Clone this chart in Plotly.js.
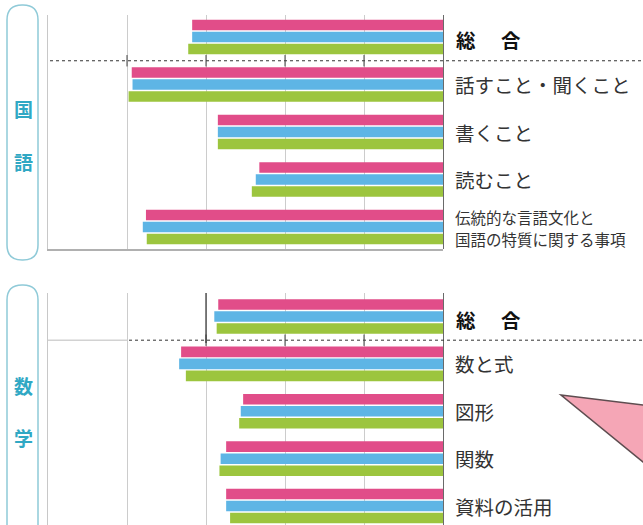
<!DOCTYPE html>
<html>
<head>
<meta charset="utf-8">
<script src="https://cdn.plot.ly/plotly-3.0.1.min.js"></script>
<style>html,body{margin:0;padding:0;background:#fff;}#chart{width:643px;height:525px;}</style>
</head>
<body>
<div id="chart"></div>
<script>
// ---- data ----
const seriesNames = ['系列A', '系列B', '系列C'];
const seriesColors = ['#e14d89', '#5eb5e5', '#9cc53e'];

const kokugoCats = ['総　合', '話すこと・聞くこと', '書くこと', '読むこと', '伝統的な言語文化と<br>国語の特質に関する事項'];
const kokugoPink  = [63.5, 78.8, 57.0, 46.5, 75.2];
const kokugoBlue  = [63.5, 78.6, 57.0, 47.4, 76.0];
const kokugoGreen = [64.5, 79.6, 57.0, 48.4, 75.0];

const sugakuCats = ['総　合', '数と式', '図形', '関数', '資料の活用'];
const sugakuPink  = [56.9, 66.3, 50.6, 54.9, 54.9];
const sugakuBlue  = [57.9, 66.8, 51.2, 56.3, 54.9];
const sugakuGreen = [57.3, 65.1, 51.6, 56.6, 53.9];

const subjectLabels = [['国', '語'], ['数', '学']];
const gridTicks = [0, 20, 40, 60, 80, 100];

// ---- helpers ----
const W = 643, H = 525;
const px = x => x / W;
const py = y => 1 - y / H;
const FONT = '"Noto Sans CJK JP", "Noto Sans CJK SC", sans-serif';

const idx = kokugoCats.map((_, i) => i);
const traces = [];
[[kokugoPink, kokugoBlue, kokugoGreen], [sugakuPink, sugakuBlue, sugakuGreen]].forEach((set, p) => {
  set.forEach((vals, s) => {
    traces.push({
      type: 'bar', orientation: 'h',
      x: vals, y: idx,
      xaxis: p === 0 ? 'x' : 'x2', yaxis: p === 0 ? 'y' : 'y2',
      name: seriesNames[s],
      marker: {color: seriesColors[s], line: {width: 0}},
      showlegend: false, hoverinfo: 'skip'
    });
  });
});

const xCommon = {
  range: [100, 0], dtick: 20, tick0: 0, showticklabels: false, ticks: '',
  showgrid: true, gridcolor: '#cccccc', gridwidth: 1,
  zeroline: true, zerolinecolor: '#6a6a6a', zerolinewidth: 1,
  domain: [px(48), px(443)], fixedrange: true
};
const yCommon = {
  showticklabels: false, ticks: '', showgrid: false, zeroline: false,
  showline: true, linecolor: '#c8c8c8', linewidth: 1.5, fixedrange: true
};

const shapes = [];
const annotations = [];

// category separator lines
shapes.push({type: 'line', xref: 'paper', yref: 'y', x0: px(50), x1: 1, y0: 0.5, y1: 0.5,
  line: {color: '#333', width: 1, dash: 'dot'}});
shapes.push({type: 'line', xref: 'paper', yref: 'y2', x0: px(48), x1: px(127), y0: 0.5, y1: 0.5,
  line: {color: '#d2d2d2', width: 1.5}});
shapes.push({type: 'line', xref: 'paper', yref: 'y2', x0: px(129), x1: 1, y0: 0.5, y1: 0.5,
  line: {color: '#333', width: 1, dash: 'dot'}});
// small dark ticks where gridlines cross separators
[['x', 'y', 1], ['x2', 'y2', 2]].forEach(([xa, ya, p]) => {
  gridTicks.slice(1, 5).forEach(t => {
    if (p === 2 && t === 80) return;
    shapes.push({type: 'line', xref: xa, yref: ya, x0: t, x1: t, y0: 0.38, y1: 0.62,
      line: {color: '#444', width: 1}});
  });
});
// darker gridline segment in math total row
shapes.push({type: 'line', xref: 'x2', yref: 'y2', x0: 60, x1: 60, y0: -0.5, y1: 0.56,
  line: {color: '#333', width: 1.2}});

// subject boxes
function roundBox(x0, y0, x1, y1, r) {
  const X = v => px(v), Y = v => py(v);
  return `M ${X(x0)},${Y(y0 + r)} Q ${X(x0)},${Y(y0)} ${X(x0 + r)},${Y(y0)} L ${X(x1 - r)},${Y(y0)} Q ${X(x1)},${Y(y0)} ${X(x1)},${Y(y0 + r)} L ${X(x1)},${Y(y1 - r)} Q ${X(x1)},${Y(y1)} ${X(x1 - r)},${Y(y1)} L ${X(x0 + r)},${Y(y1)} Q ${X(x0)},${Y(y1)} ${X(x0)},${Y(y1 - r)} Z`;
}
shapes.push({type: 'path', xref: 'paper', yref: 'paper', path: roundBox(7, 5, 38, 260, 15),
  line: {color: '#8fcad8', width: 1.5}, fillcolor: 'rgba(0,0,0,0)'});
shapes.push({type: 'path', xref: 'paper', yref: 'paper', path: roundBox(7, 285, 38, 600, 15),
  line: {color: '#8fcad8', width: 1.5}, fillcolor: 'rgba(0,0,0,0)'});

const subjY = [[108, 161], [385, 437]];
subjectLabels.forEach((chars, p) => {
  chars.forEach((c, k) => {
    annotations.push({xref: 'paper', yref: 'paper', x: px(23), y: py(subjY[p][k]),
      text: '<b>' + c + '</b>', showarrow: false, xanchor: 'center', yanchor: 'middle',
      font: {family: FONT, size: 19, color: '#30a8c4'}});
  });
});

// category labels on the right
[[kokugoCats, 'y'], [sugakuCats, 'y2']].forEach(([cats, ya]) => {
  cats.forEach((c, i) => {
    const lines = c.split('<br>');
    if (lines.length > 1) {
      lines.forEach((ln, k) => {
        annotations.push({
          xref: 'paper', yref: ya, x: px(453), y: i, xanchor: 'left', yanchor: 'middle',
          text: ln, showarrow: false, align: 'left',
          yshift: (k === 0 ? 11 : -11) - 1,
          font: {family: FONT, size: 15.5, color: '#333'}
        });
      });
    } else if (i === 0) {
      const chars = c.split('　');
      annotations.push({xref: 'paper', yref: ya, x: px(454), y: i, xanchor: 'left', yanchor: 'middle',
        text: '<b>' + chars[0] + '</b>', showarrow: false, yshift: -3,
        font: {family: FONT, size: 19.5, color: '#111'}});
      annotations.push({xref: 'paper', yref: ya, x: px(499), y: i, xanchor: 'left', yanchor: 'middle',
        text: '<b>' + chars[1] + '</b>', showarrow: false, yshift: -3,
        font: {family: FONT, size: 19.5, color: '#111'}});
    } else {
      annotations.push({
        xref: 'paper', yref: ya, x: px(453), y: i, xanchor: 'left', yanchor: 'middle',
        text: c, showarrow: false, align: 'left',
        font: {family: FONT, size: 19.5, color: '#333'}
      });
    }
  });
});

// callout pointer
shapes.push({type: 'path', xref: 'paper', yref: 'paper',
  path: `M ${px(561)},${py(395)} L ${px(660)},${py(407)} L ${px(660)},${py(476)} Z`,
  fillcolor: '#f5a6b6', line: {color: '#5e4d50', width: 1.5}});

const layout = {
  width: W, height: H,
  margin: {l: 0, r: 0, t: 0, b: 0},
  paper_bgcolor: '#fff', plot_bgcolor: 'rgba(0,0,0,0)',
  barmode: 'group', bargap: 0.24, bargroupgap: 0.12,
  font: {family: FONT},
  xaxis: Object.assign({}, xCommon, {anchor: 'y', showline: true, linecolor: '#b0b0b0', linewidth: 1.5, side: 'bottom', mirror: false}),
  yaxis: Object.assign({}, yCommon, {anchor: 'x', domain: [py(249), py(15)], range: [4.463, -0.463]}),
  xaxis2: Object.assign({}, xCommon, {anchor: 'y2', showline: false}),
  yaxis2: Object.assign({}, yCommon, {anchor: 'x2', domain: [0, py(293)], range: [4.40, -0.496]}),
  shapes: shapes,
  annotations: annotations
};

Plotly.newPlot('chart', traces, layout, {staticPlot: true, displayModeBar: false});
</script>
</body>
</html>
